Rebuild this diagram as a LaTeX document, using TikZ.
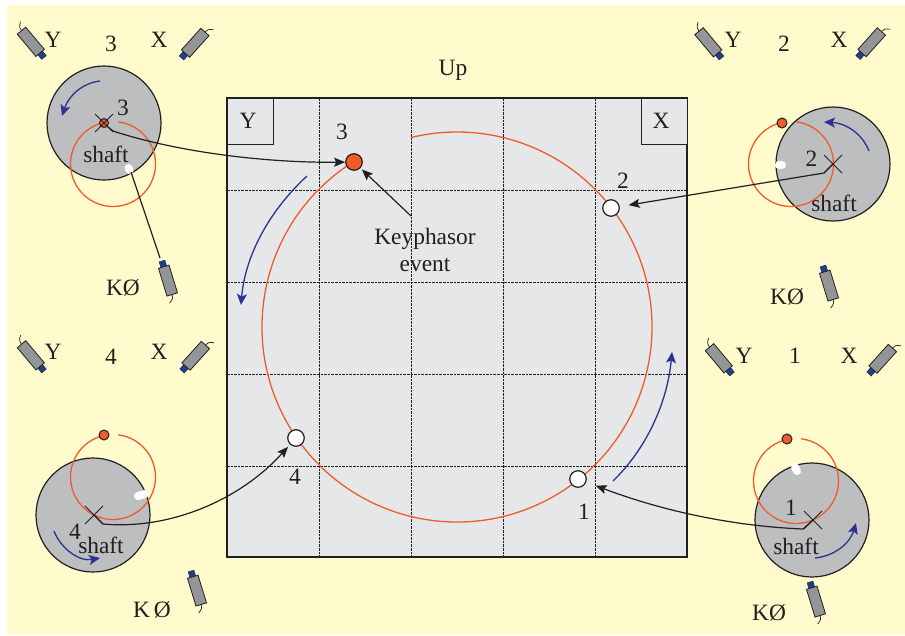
\documentclass[tikz,border=0pt]{standalone}
\usepackage{fontspec}
\setmainfont{Liberation Serif}
\usetikzlibrary{arrows.meta}
\definecolor{bgy}{HTML}{FFFBCC}
\definecolor{plotg}{HTML}{E6E7E8}
\definecolor{shaftg}{HTML}{BCBEC0}
\definecolor{sensg}{HTML}{939598}
\definecolor{ink}{HTML}{231F20}
\definecolor{rd}{HTML}{F15A29}
\definecolor{orb}{HTML}{F15A29}
\definecolor{blu}{HTML}{2E3192}
\definecolor{tipb}{HTML}{1C3F94}
\tikzset{
  lbl/.style={inner sep=0pt,text=ink,font=\fontsize{23.4}{25}\selectfont},
  shaftnode/.style={circle,draw=ink,line width=1.2pt,fill=shaftg,minimum size=114pt,inner sep=0pt},
  orbit/.style={draw=orb,line width=1.3pt},
  bluarrow/.style={draw=blu,line width=1.3pt,-{Stealth[length=11pt,width=10pt,inset=2.5pt]}},
  conn/.style={draw=ink,line width=1.2pt},
  connarr/.style={draw=ink,line width=1.2pt,-{Stealth[length=11pt,width=9pt,inset=2pt]}},
  cross/.style={draw=ink,line width=1pt},
  notch/.style={draw=white,line width=8pt,line cap=round},
  keydot/.style={circle,draw=ink,line width=1pt,fill=rd,minimum size=10pt,inner sep=0pt},
  bigdot/.style={circle,draw=ink,line width=1.2pt,minimum size=16.5pt,inner sep=0pt},
  griddash/.style={draw=ink,line width=1pt,dash pattern=on 2.6pt off 1pt},
}
% tip x, tip y, page angle from tip towards tail
\newcommand{\probe}[3]{%
  \begin{scope}[shift={(#1,#2)},rotate=#3]
    \fill[tipb,draw=ink,line width=0.4pt] (0pt,-3pt) rectangle (6pt,3pt);
    \fill[sensg,draw=ink,line width=0.8pt] (6pt,-5.5pt) rectangle (35pt,5.5pt);
    \draw[ink,line width=0.7pt] (35pt,0pt) .. controls (37.5pt,0.5pt) and (40pt,-1pt) .. (42.5pt,-5pt);
  \end{scope}}
\newcommand{\crossat}[2]{\draw[cross] (#1-9,#2-9) -- (#1+9,#2+9) (#1-9,#2+9) -- (#1+9,#2-9);}
\begin{document}
\begin{tikzpicture}[x=1pt,y=-1pt]
\useasboundingbox (0,0) rectangle (905,635);
\fill[white] (0,0) rectangle (905,635);
\fill[bgy] (7,5) rectangle (905,635);

% main plot
\node[draw=ink,line width=1.8pt,fill=plotg,minimum width=460pt,minimum height=459pt,inner sep=0pt] (plot) at (457,327.5) {};
\foreach \gx in {319,411,503,595} \draw[griddash] (\gx,98) -- (\gx,557);
\foreach \gy in {190,282,374,466} \draw[griddash] (227,\gy) -- (687,\gy);
\node[draw=ink,line width=1pt,fill=plotg,minimum width=46pt,minimum height=46pt,inner sep=0pt] (boxY) at (250,121) {};
\node[draw=ink,line width=1pt,fill=plotg,minimum width=46pt,minimum height=46pt,inner sep=0pt] (boxX) at (664,121) {};
\node[lbl] at (248,121) {Y};
\node[lbl] at (661,121) {X};
\node[lbl] at (453,70) {Up};

% big orbit
\coordinate (bigc) at (457,327);
\draw[orbit] (bigc) ++(122:195pt) arc[start angle=122,end angle=463.6,radius=195pt];
\node[bigdot,fill=rd] (d3) at (354,162) {};
\node[bigdot,fill=white] (d2) at (611,208) {};
\node[bigdot,fill=white] (d1) at (578,479) {};
\node[bigdot,fill=white] (d4) at (296,438) {};
\node[lbl] at (342,132) {3};
\node[lbl] at (623,181) {2};
\node[lbl] at (584,512) {1};
\node[lbl] at (295,477) {4};
\node[lbl] (key1) at (425,239) {Keyphasor};
\node[lbl] (key2) at (425,265) {event};
\coordinate (keyfoot) at (411,216);
\draw[connarr,shorten >=2pt] (keyfoot) -- (d3);
\coordinate (ba1) at (307,176); \coordinate (ba2) at (241,305);
\draw[bluarrow] (ba1) .. controls (268,212) and (245,257) .. (ba2);
\coordinate (ba3) at (613,481); \coordinate (ba4) at (672,352);
\draw[bluarrow] (ba3) .. controls (645,450) and (667,405) .. (ba4);

% panel 3
\node[shaftnode] (s3) at (104,123) {};
\draw[orbit] (113,164) ++(102.4:42.5pt) arc[start angle=102.4,end angle=443,radius=42.5pt];
\draw[notch] (128.5,168) -- (129.5,170);
\node[keydot,minimum size=9pt] (k3) at (104,123) {};
\crossat{104}{123}
\node[lbl] at (123,108) {3};
\node[lbl] at (106,154) {shaft};
\coordinate (c3) at (113,131);
\draw[connarr] (108,127) -- (c3) .. controls (180,153) and (270,163) .. (d3);
\draw[bluarrow] (100,81) .. controls (83,83) and (69,95) .. (62,116);
\probe{44}{57.5}{130}
\probe{181.5}{58}{48}
\probe{162}{261}{-73}
\draw[conn] (131,172) -- (160,258);
\node[lbl] at (53,40) {Y};
\node[lbl] at (111,44) {3};
\node[lbl] at (159,40) {X};
\node[lbl] at (123,288) {KØ};

% panel 2
\node[shaftnode] (s2) at (833,164) {};
\draw[orbit] (791,164) ++(102.4:42.5pt) arc[start angle=102.4,end angle=443,radius=42.5pt];
\draw[notch] (779,165) -- (782,165);
\node[keydot] (k2) at (782,123) {};
\crossat{833}{164}
\node[lbl] at (811.5,159) {2};
\node[lbl] at (834,203) {shaft};
\coordinate (c2) at (824,173);
\draw[connarr,shorten >=9pt] (833,164) -- (c2) -- (d2);
\draw[bluarrow] (869,151) .. controls (862,133) and (845,123) .. (824,122);
\probe{721.5}{58}{130}
\probe{858}{57.5}{48}
\probe{823}{266}{-73}
\node[lbl] at (733,40) {Y};
\node[lbl] at (784,44) {2};
\node[lbl] at (839,40) {X};
\node[lbl] at (787,297) {KØ};

% panel 4
\node[shaftnode] (s4) at (93,515) {};
\draw[orbit] (113,477) ++(102.4:42.5pt) arc[start angle=102.4,end angle=443,radius=42.5pt];
\draw[notch] (138,496) -- (145,494);
\node[keydot] (k4) at (104,435) {};
\crossat{94}{515}
\node[lbl] at (75,532) {4};
\node[lbl] at (101,545) {shaft};
\coordinate (c4) at (103,524);
\draw[connarr,shorten >=3pt] (94,515) -- (c4) .. controls (170,530) and (240,500) .. (d4);
\draw[bluarrow] (54,531) .. controls (60,547) and (78,562) .. (100,558);
\probe{44}{371}{130}
\probe{182}{371}{48}
\probe{191}{571}{-73}
\node[lbl] at (53,352) {Y};
\node[lbl] at (111,357) {4};
\node[lbl] at (159,352) {X};
\node[lbl] at (152,610) {K\,Ø};

% panel 1
\node[shaftnode] (s1) at (812,520) {};
\draw[orbit] (796,481) ++(102.4:42.5pt) arc[start angle=102.4,end angle=443,radius=42.5pt];
\draw[notch] (795,467) -- (797,471);
\node[keydot] (k1) at (787,439) {};
\crossat{813}{520}
\node[lbl] at (791,508) {1};
\node[lbl] at (796,546) {shaft};
\coordinate (c1) at (803,529);
\draw[connarr,shorten >=10pt] (813,520) -- (c1) .. controls (730,526) and (660,510) .. (d1);
\draw[bluarrow] (815,558) .. controls (835,556) and (850,543) .. (856,523);
\probe{732}{374}{130}
\probe{869}{374}{48}
\probe{810}{582}{-73}
\node[lbl] at (744,356) {Y};
\node[lbl] at (795,356) {1};
\node[lbl] at (849,356) {X};
\node[lbl] at (769,613) {KØ};
\end{tikzpicture}
\end{document}
